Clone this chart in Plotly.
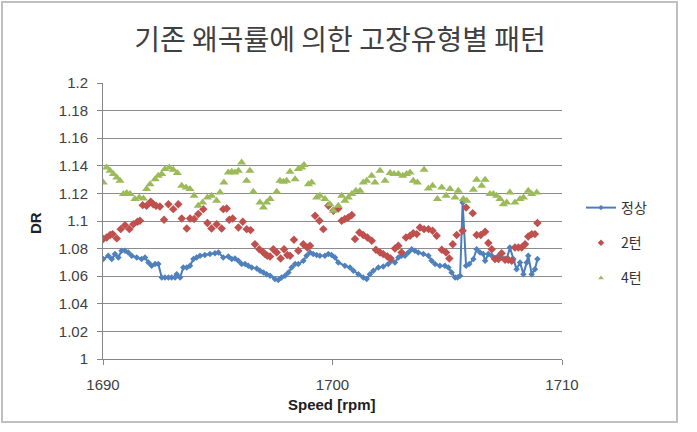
import plotly.graph_objects as go

# ---------------- data ----------------
title_text = "기존 왜곡률에 의한 고장유형별 패턴"
series_names = ["정상", "2턴", "4턴"]

normal_x = [1690.01, 1690.23, 1690.38, 1690.52, 1690.67, 1690.81, 1690.96, 1691.10, 1691.25, 1691.47,
            1691.68, 1691.83, 1691.98, 1692.12, 1692.27, 1692.41, 1692.56, 1692.70, 1692.85, 1692.99,
            1693.14, 1693.21, 1693.36, 1693.50, 1693.65, 1693.79, 1693.94, 1694.08, 1694.23, 1694.44,
            1694.66, 1694.88, 1695.03, 1695.24, 1695.46, 1695.61, 1695.75, 1695.90, 1696.04, 1696.19,
            1696.33, 1696.48, 1696.70, 1696.84, 1696.99, 1697.13, 1697.28, 1697.49, 1697.64, 1697.78,
            1697.93, 1698.08, 1698.22, 1698.37, 1698.51, 1698.73, 1698.87, 1699.02, 1699.16, 1699.31,
            1699.45, 1699.67, 1699.82, 1699.96, 1700.11, 1700.25, 1700.54, 1700.76, 1700.91, 1701.13,
            1701.34, 1701.49, 1701.63, 1701.78, 1702.00, 1702.21, 1702.43, 1702.58, 1702.72, 1702.87,
            1703.01, 1703.16, 1703.30, 1703.45, 1703.59, 1703.74, 1703.96, 1704.18, 1704.32, 1704.47,
            1704.68, 1704.90, 1705.05, 1705.19, 1705.34, 1705.45, 1705.56, 1705.67, 1705.82, 1705.96,
            1706.14, 1706.28, 1706.43, 1706.57, 1706.65, 1706.79, 1706.94, 1707.08, 1707.23, 1707.37,
            1707.59, 1707.73, 1707.88, 1708.02, 1708.17, 1708.32, 1708.46, 1708.53, 1708.68, 1708.82,
            1708.93]
normal_y = [1.0724, 1.0748, 1.0724, 1.0760, 1.0736, 1.0784, 1.0784, 1.0772, 1.0748, 1.0736,
            1.0724, 1.0736, 1.0700, 1.0676, 1.0688, 1.0688, 1.0591, 1.0591, 1.0591, 1.0591,
            1.0591, 1.0615, 1.0591, 1.0663, 1.0663, 1.0676, 1.0724, 1.0736, 1.0748, 1.0753,
            1.0760, 1.0767, 1.0772, 1.0736, 1.0743, 1.0724, 1.0729, 1.0712, 1.0688, 1.0688,
            1.0676, 1.0663, 1.0656, 1.0639, 1.0627, 1.0615, 1.0603, 1.0579, 1.0572, 1.0591,
            1.0603, 1.0627, 1.0663, 1.0688, 1.0688, 1.0712, 1.0748, 1.0772, 1.0760, 1.0753,
            1.0748, 1.0748, 1.0760, 1.0753, 1.0736, 1.0700, 1.0676, 1.0663, 1.0639, 1.0615,
            1.0591, 1.0579, 1.0615, 1.0639, 1.0663, 1.0671, 1.0688, 1.0712, 1.0700, 1.0736,
            1.0748, 1.0748, 1.0772, 1.0796, 1.0784, 1.0772, 1.0760, 1.0748, 1.0712, 1.0688,
            1.0676, 1.0676, 1.0663, 1.0627, 1.0591, 1.0591, 1.0603, 1.1134, 1.0676, 1.0688,
            1.0724, 1.0796, 1.0772, 1.0760, 1.0712, 1.0760, 1.0748, 1.0729, 1.0748, 1.0736,
            1.0724, 1.0808, 1.0724, 1.0651, 1.0700, 1.0615, 1.0700, 1.0748, 1.0615, 1.0651,
            1.0724]

turn2_x = [1690.01, 1690.16, 1690.31, 1690.42, 1690.60, 1690.77, 1690.96, 1691.15, 1691.32, 1691.50,
           1691.61, 1691.73, 1691.90, 1692.08, 1692.19, 1692.31, 1692.48, 1692.66, 1692.85, 1693.06,
           1693.28, 1693.43, 1693.65, 1693.79, 1693.97, 1694.15, 1694.37, 1694.55, 1694.73, 1694.95,
           1695.17, 1695.24, 1695.39, 1695.50, 1695.65, 1695.90, 1696.09, 1696.26, 1696.43, 1696.62,
           1696.81, 1696.96, 1697.06, 1697.16, 1697.28, 1697.42, 1697.57, 1697.74, 1697.89, 1698.03,
           1698.15, 1698.32, 1698.51, 1698.73, 1698.90, 1699.02, 1699.24, 1699.43, 1699.60, 1699.82,
           1700.04, 1700.25, 1700.40, 1700.54, 1700.69, 1700.84, 1700.98, 1701.17, 1701.34, 1701.52,
           1701.71, 1701.89, 1702.07, 1702.21, 1702.39, 1702.53, 1702.72, 1702.87, 1703.01, 1703.20,
           1703.38, 1703.52, 1703.67, 1703.81, 1703.99, 1704.18, 1704.36, 1704.54, 1704.76, 1704.95,
           1705.09, 1705.24, 1705.41, 1705.67, 1705.82, 1706.11, 1706.28, 1706.46, 1706.65, 1706.79,
           1706.94, 1707.08, 1707.23, 1707.37, 1707.52, 1707.66, 1707.81, 1707.95, 1708.10, 1708.24,
           1708.39, 1708.53, 1708.68, 1708.82, 1708.93]
turn2_y = [1.0869, 1.0881, 1.0898, 1.0905, 1.0874, 1.0941, 1.0970, 1.0941, 1.0977, 1.0994,
           1.1002, 1.1115, 1.1110, 1.1139, 1.1122, 1.1110, 1.1105, 1.1009, 1.1122, 1.1086,
           1.1122, 1.1018, 1.0946, 1.1018, 1.1014, 1.1050, 1.1086, 1.0985, 1.0946, 1.0977,
           1.0946, 1.1086, 1.1091, 1.1009, 1.1018, 1.0953, 1.0994, 1.0941, 1.0934, 1.0832,
           1.0796, 1.0777, 1.0760, 1.0748, 1.0743, 1.0796, 1.0772, 1.0729, 1.0796, 1.0753,
           1.0748, 1.0864, 1.0784, 1.0832, 1.0808, 1.0820, 1.1038, 1.1002, 1.0941, 1.1110,
           1.1074, 1.1091, 1.1002, 1.1014, 1.1026, 1.1043, 1.0869, 1.0917, 1.0898, 1.0881,
           1.0857, 1.0791, 1.0772, 1.0760, 1.0743, 1.0729, 1.0801, 1.0820, 1.0772, 1.0881,
           1.0893, 1.0912, 1.0905, 1.0953, 1.0941, 1.0941, 1.0929, 1.0893, 1.0791, 1.0772,
           1.0729, 1.0832, 1.0898, 1.0929, 1.1098, 1.1057, 1.0898, 1.0898, 1.0922, 1.0840,
           1.0796, 1.0724, 1.0724, 1.0767, 1.0719, 1.0719, 1.0712, 1.0808, 1.0808, 1.0808,
           1.0832, 1.0888, 1.0905, 1.0905, 1.0985]

turn4_x = [1690.01, 1690.16, 1690.31, 1690.45, 1690.60, 1690.74, 1690.89, 1691.03, 1691.18, 1691.39,
           1691.58, 1691.76, 1691.90, 1692.05, 1692.27, 1692.41, 1692.56, 1692.70, 1692.89, 1693.06,
           1693.24, 1693.43, 1693.62, 1693.79, 1693.97, 1694.15, 1694.34, 1694.55, 1694.73, 1694.95,
           1695.10, 1695.27, 1695.46, 1695.61, 1695.75, 1695.90, 1696.04, 1696.26, 1696.40, 1696.55,
           1696.84, 1696.99, 1697.13, 1697.28, 1697.57, 1697.71, 1697.86, 1698.00, 1698.15, 1698.37,
           1698.51, 1698.66, 1698.76, 1698.95, 1699.09, 1699.31, 1699.45, 1699.67, 1699.89, 1700.04,
           1700.25, 1700.40, 1700.54, 1700.69, 1700.84, 1701.02, 1701.20, 1701.34, 1701.49, 1701.71,
           1701.85, 1702.07, 1702.29, 1702.51, 1702.68, 1702.87, 1703.06, 1703.23, 1703.38, 1703.52,
           1703.70, 1703.99, 1704.18, 1704.36, 1704.57, 1704.76, 1704.95, 1705.12, 1705.34, 1705.48,
           1705.70, 1705.85, 1706.14, 1706.28, 1706.50, 1706.65, 1706.86, 1707.01, 1707.15, 1707.30,
           1707.44, 1707.59, 1707.73, 1707.95, 1708.17, 1708.32, 1708.53, 1708.68, 1708.90]
turn4_y = [1.1279, 1.1388, 1.1364, 1.1340, 1.1315, 1.1291, 1.1195, 1.1202, 1.1195, 1.1159,
           1.1171, 1.1163, 1.1231, 1.1267, 1.1303, 1.1328, 1.1340, 1.1376, 1.1388, 1.1371,
           1.1347, 1.1255, 1.1243, 1.1231, 1.1183, 1.1110, 1.1134, 1.1171, 1.1183, 1.1146,
           1.1207, 1.1279, 1.1352, 1.1357, 1.1352, 1.1364, 1.1424, 1.1291, 1.1364, 1.1212,
           1.1134, 1.1098, 1.1134, 1.1159, 1.1212, 1.1291, 1.1284, 1.1291, 1.1357, 1.1303,
           1.1376, 1.1388, 1.1405, 1.1267, 1.1279, 1.1171, 1.1183, 1.1159, 1.1122, 1.1074,
           1.1110, 1.1183, 1.1146, 1.1171, 1.1195, 1.1219, 1.1219, 1.1279, 1.1291, 1.1328,
           1.1279, 1.1364, 1.1291, 1.1347, 1.1340, 1.1340, 1.1328, 1.1340, 1.1352, 1.1291,
           1.1279, 1.1371, 1.1236, 1.1255, 1.1159, 1.1243, 1.1183, 1.1231, 1.1171, 1.1219,
           1.1159, 1.1146, 1.1226, 1.1299, 1.1255, 1.1299, 1.1195, 1.1195, 1.1183, 1.1159,
           1.1122, 1.1134, 1.1207, 1.1134, 1.1159, 1.1171, 1.1219, 1.1195, 1.1207]

y_tick_vals = [1.0, 1.02, 1.04, 1.06, 1.08, 1.10, 1.12, 1.14, 1.16, 1.18, 1.20]
y_tick_text = ["1", "1.02", "1.04", "1.06", "1.08", "1.1", "1.12", "1.14", "1.16", "1.18", "1.2"]
x_tick_vals = [1690, 1700, 1710]
x_tick_text = ["1690", "1700", "1710"]

# ---------------- figure ----------------
W, H = 697, 432
L, R, T, B = 103, 135, 83, 73
pw, ph = W - L - R, H - T - B

def px(x):
    return (x - L) / pw

def py(y):
    return (H - B - y) / ph

txt_font = "Liberation Sans, Arial, sans-serif"
ko_font = "Noto Sans CJK KR, Noto Sans, sans-serif"

C_BLUE_LINE, C_BLUE = "#4A7EBB", "#4F81BD"
C_RED, C_GREEN = "#C0504D", "#9BBB59"

fig = go.Figure()
fig.add_trace(go.Scatter(
    x=normal_x, y=normal_y, name=series_names[0], mode="lines+markers",
    line=dict(color=C_BLUE_LINE, width=2),
    marker=dict(symbol="diamond", size=5, color=C_BLUE),
    showlegend=False))
fig.add_trace(go.Scatter(
    x=turn2_x, y=turn2_y, name=series_names[1], mode="markers",
    marker=dict(symbol="diamond", size=6.5, color=C_RED),
    showlegend=False))
fig.add_trace(go.Scatter(
    x=turn4_x, y=turn4_y, name=series_names[2], mode="markers",
    marker=dict(symbol="triangle-up", size=8, color=C_GREEN),
    showlegend=False))

# legend-only entries (small symbols as in the reference legend)
fig.add_trace(go.Scatter(
    x=[None], y=[None], name=series_names[0], mode="lines+markers",
    line=dict(color=C_BLUE_LINE, width=2),
    marker=dict(symbol="diamond", size=4, color=C_BLUE), legendgroup="a"))
fig.add_trace(go.Scatter(
    x=[None], y=[None], name=series_names[1], mode="markers",
    marker=dict(symbol="diamond", size=5, color=C_RED), legendgroup="b"))
fig.add_trace(go.Scatter(
    x=[None], y=[None], name=series_names[2], mode="markers",
    marker=dict(symbol="triangle-up", size=5, color=C_GREEN), legendgroup="c"))

fig.update_layout(
    width=W, height=H,
    margin=dict(l=L, r=R, t=T, b=B, pad=0),
    paper_bgcolor="white", plot_bgcolor="white",
    title=dict(text=title_text, x=340 / W, xref="container", xanchor="center",
               y=1 - 40 / H, yref="container", yanchor="middle",
               font=dict(family=ko_font, size=28, color="#404040")),
    showlegend=True,
    legend=dict(x=px(581), y=py(192), xanchor="left", yanchor="top",
                font=dict(family=ko_font, size=14, color="#333333"),
                tracegroupgap=14, bgcolor="rgba(0,0,0,0)",
                itemwidth=30),
    xaxis=dict(range=[1690, 1710], tickvals=x_tick_vals, ticktext=x_tick_text,
               showgrid=False, zeroline=False, showline=True, linecolor="#868686", linewidth=1,
               ticks="outside", ticklen=5, tickcolor="#868686",
               tickfont=dict(family=txt_font, size=15, color="#404040"),
               ticklabelstandoff=7),
    yaxis=dict(range=[1.0, 1.2], tickvals=y_tick_vals, ticktext=y_tick_text,
               showgrid=True, gridcolor="#8C8C8C", gridwidth=1, zeroline=False,
               showline=True, linecolor="#868686", linewidth=1,
               ticks="outside", ticklen=5, tickcolor="#868686",
               tickfont=dict(family=txt_font, size=15, color="#404040"),
               ticklabelstandoff=6),
    annotations=[
        dict(text="<b>DR</b>", xref="paper", yref="paper", x=px(35), y=py(223),
             xanchor="center", yanchor="middle", textangle=-90, showarrow=False,
             font=dict(family=txt_font, size=15, color="#202020")),
        dict(text="<b>Speed [rpm]</b>", xref="paper", yref="paper", x=px(332), y=py(404),
             xanchor="center", yanchor="middle", showarrow=False,
             font=dict(family=txt_font, size=15, color="#202020")),
    ],
    shapes=[
        dict(type="rect", xref="paper", yref="paper", x0=px(2), x1=px(677), y0=py(2), y1=py(422),
             line=dict(color="#BFBFBF", width=2), fillcolor="rgba(0,0,0,0)", layer="below"),
    ],
)

fig.write_html("out.html")
